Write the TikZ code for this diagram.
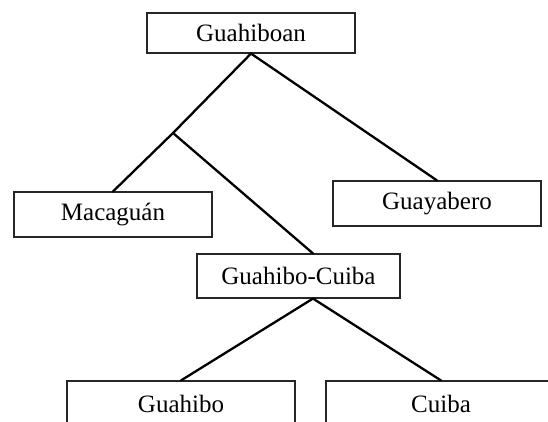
\documentclass[tikz,border=0pt]{standalone}
\usepackage{fontspec}
\setmainfont{Liberation Serif}
\usetikzlibrary{calc}
\begin{document}
\begin{tikzpicture}[x=1pt,y=-1pt,
  langbox/.style={draw=black!85, line width=1.1pt, rectangle, inner sep=0pt,
    font=\fontsize{25}{28}\selectfont},
  branch/.style={line width=2.3pt, line cap=round}]
\useasboundingbox (0,0) rectangle (548,421);
\clip (0,0) rectangle (548,421);
\node[langbox, minimum width=208pt, minimum height=40pt] (g) at (251,33) {Guahiboan};
\node[langbox, minimum width=198pt, minimum height=45pt] (mac) at (113,214.5) {Macaguán};
\node[langbox, minimum width=208pt, minimum height=45pt] (guay) at (437,203.5) {Guayabero};
\node[langbox, minimum width=203pt, minimum height=44pt] (gc) at (298.5,276) {Guahibo-Cuiba};
\node[langbox, minimum width=228pt, minimum height=45pt] (gh) at (181,403.5) {Guahibo};
\node[langbox, minimum width=230pt, minimum height=45pt] (cu) at (441,403.5) {Cuiba};
\coordinate (j) at (173,133);
\draw[branch] (g.south) -- (j) -- (mac.north);
\draw[branch] (j) -- ($(gc.north)+(14.5,0)$);
\draw[branch] (g.south) -- (guay.north);
\draw[branch] ($(gc.south)+(14.5,0)$) -- (gh.north);
\draw[branch] ($(gc.south)+(14.5,0)$) -- (cu.north);
\end{tikzpicture}
\end{document}
